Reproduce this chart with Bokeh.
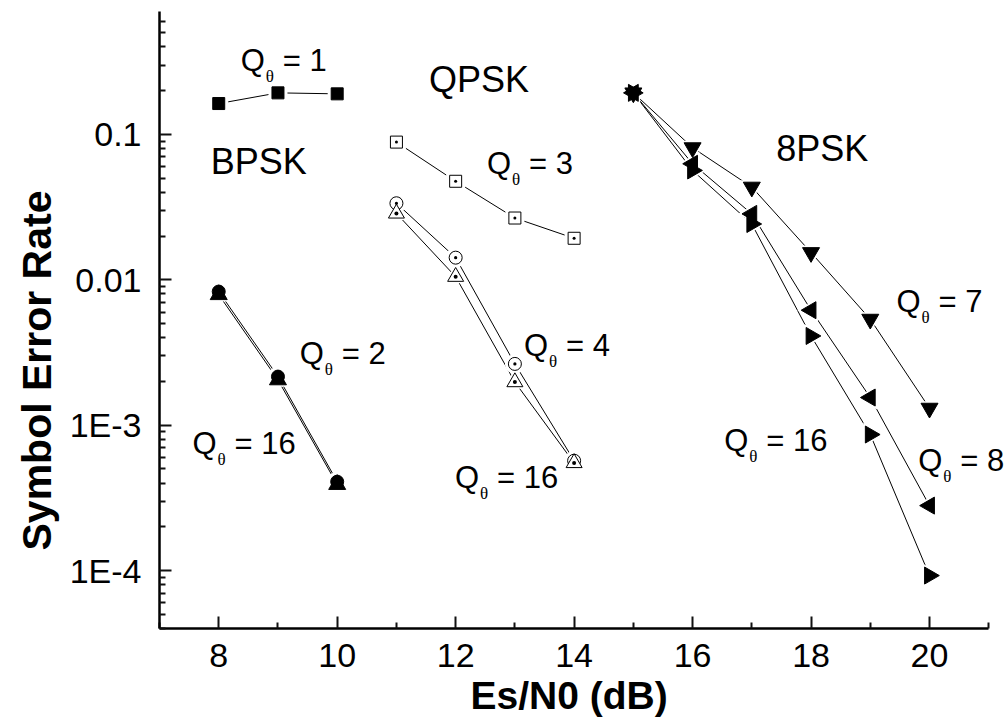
import math
from bokeh.plotting import figure
from bokeh.models import Range1d, FixedTicker, CustomJSTickFormatter, Label, Title
from bokeh.embed import file_html
from bokeh.resources import INLINE

# ---------------- data ----------------
X_BPSK = [8, 9, 10]
SER_BPSK_Q1 = [0.163, 0.193, 0.190]
SER_BPSK_Q2 = [0.0083, 0.00216, 0.000409]
SER_BPSK_Q16 = [0.0079, 0.00205, 0.000391]

X_QPSK = [11, 12, 13, 14]
SER_QPSK_Q3 = [0.0885, 0.0476, 0.0266, 0.0193]
SER_QPSK_Q4 = [0.0336, 0.0142, 0.00264, 0.00057]
SER_QPSK_Q16 = [0.0286, 0.0105, 0.00198, 0.00055]

X_8PSK = [15, 16, 17, 18, 19, 20]
SER_8PSK_Q7 = [0.193, 0.081, 0.0434, 0.0154, 0.00536, 0.00131]
SER_8PSK_Q8 = [0.193, 0.0628, 0.0284, 0.00618, 0.00155, 0.00028]
SER_8PSK_Q16 = [0.193, 0.0565, 0.0242, 0.00411, 0.000863, 0.0000925]

X_START, X_END = 7, 21
Y_MIN, Y_MAX = 4e-5, 0.7
X_MAJOR_TICKS = [8, 10, 12, 14, 16, 18, 20]
X_MINOR_TICKS = [7, 9, 11, 13, 15, 17, 19, 21]
Y_MAJOR_TICKS = [1e-4, 1e-3, 1e-2, 1e-1]
Y_MAJOR_LABELS = ["1E-4", "1E-3", "0.01", "0.1"]

X_TITLE = "Es/N0 (dB)"
Y_TITLE = "Symbol Error Rate"

MOD_NAMES = ["BPSK", "QPSK", "8PSK"]
MOD_NAME_POS = [(7.865, 0.0522), (11.55, 0.1924), (17.414, 0.0645)]

Q_VALUES = ["1", "3", "7", "8", "16", "2", "4", "16", "16"]
Q_POS = [(8.372, 0.2684), (12.530, 0.0522), (19.442, 0.00587), (19.809, 0.000475),
         (16.535, 0.000652), (9.369, 0.00257), (13.155, 0.00292), (7.556, 0.000618),
         (11.989, 0.000361)]

FONT = "Liberation Sans"
TICK_COLOR = "#111111"

p = figure(frame_width=847, frame_height=617,
           x_range=Range1d(X_START, X_END + 0.3), y_range=Range1d(Y_MIN, Y_MAX),
           y_axis_type="log", output_backend="svg", toolbar_location=None,
           min_border_left=159, min_border_right=0, min_border_top=11,
           min_border_bottom=90)
p.background_fill_color = None
p.border_fill_color = None
p.outline_line_color = None
p.xgrid.visible = False
p.ygrid.visible = False

y_minor = [m * 10.0 ** e for e in range(-5, 0) for m in range(2, 10)
           if Y_MIN <= m * 10.0 ** e <= Y_MAX]
p.xaxis.ticker = FixedTicker(ticks=X_MAJOR_TICKS, minor_ticks=X_MINOR_TICKS)
p.yaxis.ticker = FixedTicker(ticks=Y_MAJOR_TICKS, minor_ticks=y_minor)
p.xaxis.bounds = (X_START, X_END)
p.yaxis.formatter = CustomJSTickFormatter(
    args=dict(major_vals=Y_MAJOR_TICKS, major_labels=Y_MAJOR_LABELS),
    code="""
for (let i = 0; i < major_vals.length; i++) {
  if (Math.abs(Math.log10(tick) - Math.log10(major_vals[i])) < 1e-6) return major_labels[i];
}
return '';
""")
for ax in (p.xaxis[0], p.yaxis[0]):
    ax.axis_line_width = 2.5
    ax.axis_line_color = "black"
    ax.major_tick_in = 12
    ax.major_tick_out = 0
    ax.minor_tick_in = 6
    ax.minor_tick_out = 0
    ax.major_tick_line_width = 2
    ax.minor_tick_line_width = 2
    ax.major_tick_line_color = TICK_COLOR
    ax.minor_tick_line_color = TICK_COLOR
    ax.major_label_text_font = FONT
    ax.major_label_text_font_size = "34px"
    ax.major_label_text_color = "black"
p.xaxis.major_label_standoff = 15
p.yaxis.major_label_standoff = 18

# axis titles
p.add_layout(Title(text=X_TITLE, align="left", offset=311, standoff=5,
                   text_font=FONT, text_font_style="bold", text_font_size="39px",
                   text_color="black"), "below")
p.add_layout(Title(text=Y_TITLE, align="left", offset=78, standoff=14,
                   text_font=FONT, text_font_style="bold",
                   text_font_size="41px", text_color="black"), "left")

series = [
    (X_BPSK, SER_BPSK_Q1, "square", "square", "black", 12, 0.0),
    (X_BPSK, SER_BPSK_Q2, "circle", "circle", "black", 13, 0.0),
    (X_BPSK, SER_BPSK_Q16, "triangle", "triangle", "black", 17, 0.0),
    (X_QPSK, SER_QPSK_Q3, "square_dot", "square", "white", 12, 0.0),
    (X_QPSK, SER_QPSK_Q4, "circle_dot", "circle", "white", 13, 0.0),
    (X_QPSK, SER_QPSK_Q16, "triangle_dot", "triangle", "white", 16, 0.0),
    (X_8PSK, SER_8PSK_Q7, "inverted_triangle", "inverted_triangle", "black", 17, 0.0),
    (X_8PSK, SER_8PSK_Q8, "triangle", "triangle", "black", 17, math.pi / 2),
    (X_8PSK, SER_8PSK_Q16, "triangle", "triangle", "black", 17, -math.pi / 2),
]

for xs, ys, *_ in series:
    p.line(xs, ys, line_color="black", line_width=1)
for xs, ys, mk, halo, fill, size, ang in series:
    p.scatter(xs, ys, marker=halo, size=size + 7, angle=ang,
              fill_color="white", line_color=None)
for xs, ys, mk, halo, fill, size, ang in series:
    p.scatter(xs, ys, marker=mk, size=size, angle=ang,
              fill_color=fill, line_color="black", line_width=1)

# annotations
for name, (x, y) in zip(MOD_NAMES, MOD_NAME_POS):
    p.add_layout(Label(x=x, y=y, text=name, y_offset=14, text_font=FONT,
                       text_font_size="36px", text_align="left",
                       text_baseline="alphabetic", text_color="black"))

for v, (x, y) in zip(Q_VALUES, Q_POS):
    p.add_layout(Label(x=x, y=y, text="Q", y_offset=12, text_font=FONT,
                       text_font_size="31px", text_align="left",
                       text_baseline="alphabetic", text_color="black"))
    p.add_layout(Label(x=x, y=y, text="\u03b8", x_offset=25, y_offset=-4,
                       text_font="Liberation Serif", text_font_size="17px",
                       text_align="left", text_baseline="alphabetic", text_color="black"))
    p.add_layout(Label(x=x, y=y, text="= " + v, x_offset=42, y_offset=12, text_font=FONT,
                       text_font_size="31px", text_align="left",
                       text_baseline="alphabetic", text_color="black"))

open("out.html", "w").write(file_html(p, INLINE))
